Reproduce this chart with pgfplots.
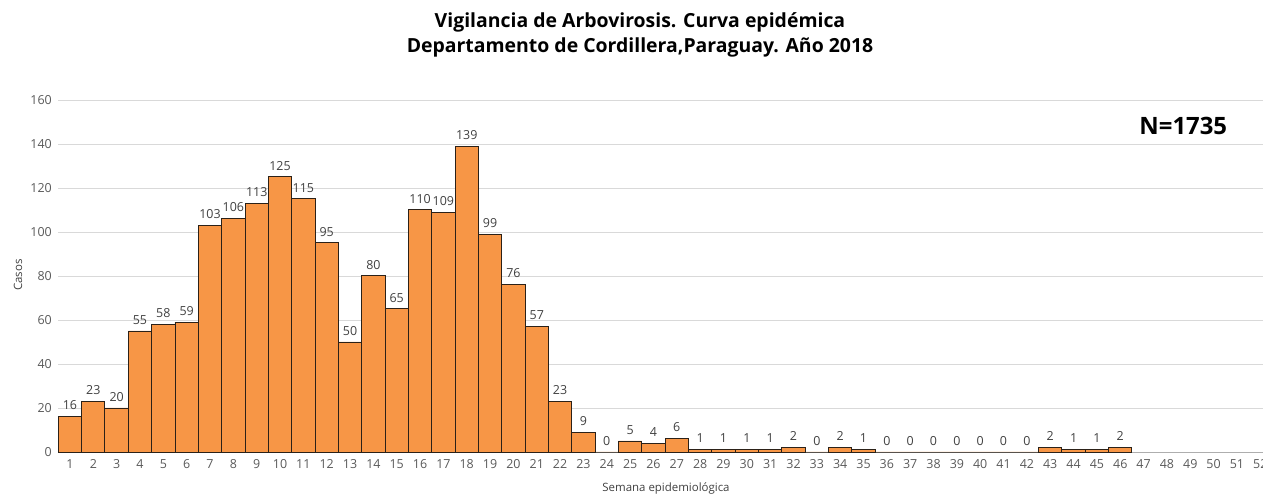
\documentclass[border=0pt]{standalone}
\usepackage{pgfplots}
\pgfplotsset{compat=1.18}
\usepackage{fontspec}
\setmainfont{Open Sans}
\definecolor{barorange}{HTML}{F79646}
\definecolor{gridgray}{HTML}{D9D9D9}
\definecolor{ticktext}{HTML}{595959}
\definecolor{labtext}{HTML}{404040}
\definecolor{baredge}{HTML}{2B2118}
\begin{document}
\begin{tikzpicture}[x=1bp,y=1bp]
\begin{axis}[
  at={(58.3bp,42bp)}, anchor=south west,
  scale only axis,
  width=1213.7bp, height=352bp,
  xmin=0.5, xmax=52.5,
  ymin=0, ymax=160,
  ytick={0,20,...,160},
  xtick={1,...,52},
  ymajorgrids, grid style={gridgray, line width=0.8pt},
  axis x line*=bottom, axis y line*=left,
  y axis line style={draw=none},
  x axis line style={draw=gridgray!80!black, line width=0.8pt},
  major tick length=0pt,
  /pgf/number format/assume math mode=true,
  tick label style={font=\fontsize{12.5}{14}\selectfont, color=ticktext},
  xticklabel style={yshift=-4bp},
  yticklabel style={xshift=-3bp},
  clip=false,
]
\addplot[ybar, bar width=1, fill=barorange, draw=baredge, line width=1pt,
  nodes near coords,
  nodes near coords style={font=\fontsize{12.5}{14}\selectfont, color=labtext, yshift=3bp},
] coordinates {
(1,16) (2,23) (3,20) (4,55) (5,58) (6,59) (7,103) (8,106) (9,113) (10,125)
(11,115) (12,95) (13,50) (14,80) (15,65) (16,110) (17,109) (18,139) (19,99) (20,76)
(21,57) (22,23) (23,9) (24,0) (25,5) (26,4) (27,6) (28,1) (29,1) (30,1)
(31,1) (32,2) (33,0) (34,2) (35,1) (36,0) (37,0) (38,0) (39,0) (40,0)
(41,0) (42,0) (43,2) (44,1) (45,1) (46,2)
};
\node[font=\fontsize{24}{28}\selectfont\bfseries, anchor=center] at (axis cs:48.7,148.2) {N=1735};
\end{axis}
\node[font=\fontsize{11.5}{13}\selectfont, color=labtext, rotate=90, anchor=center] at (18bp,219bp) {Casos};
\node[font=\fontsize{11.5}{13}\selectfont, color=labtext, anchor=center] at (666bp,6bp) {Semana epidemiológica};
\node[font=\fontsize{19.5}{25}\selectfont\bfseries, align=center, anchor=center] at (640bp,459.5bp) {Vigilancia de Arbovirosis. Curva epidémica\\Departamento de Cordillera,Paraguay. Año 2018};
\pgfresetboundingbox
\useasboundingbox (0bp,0bp) rectangle (1263bp,494bp);
\end{tikzpicture}
\end{document}
